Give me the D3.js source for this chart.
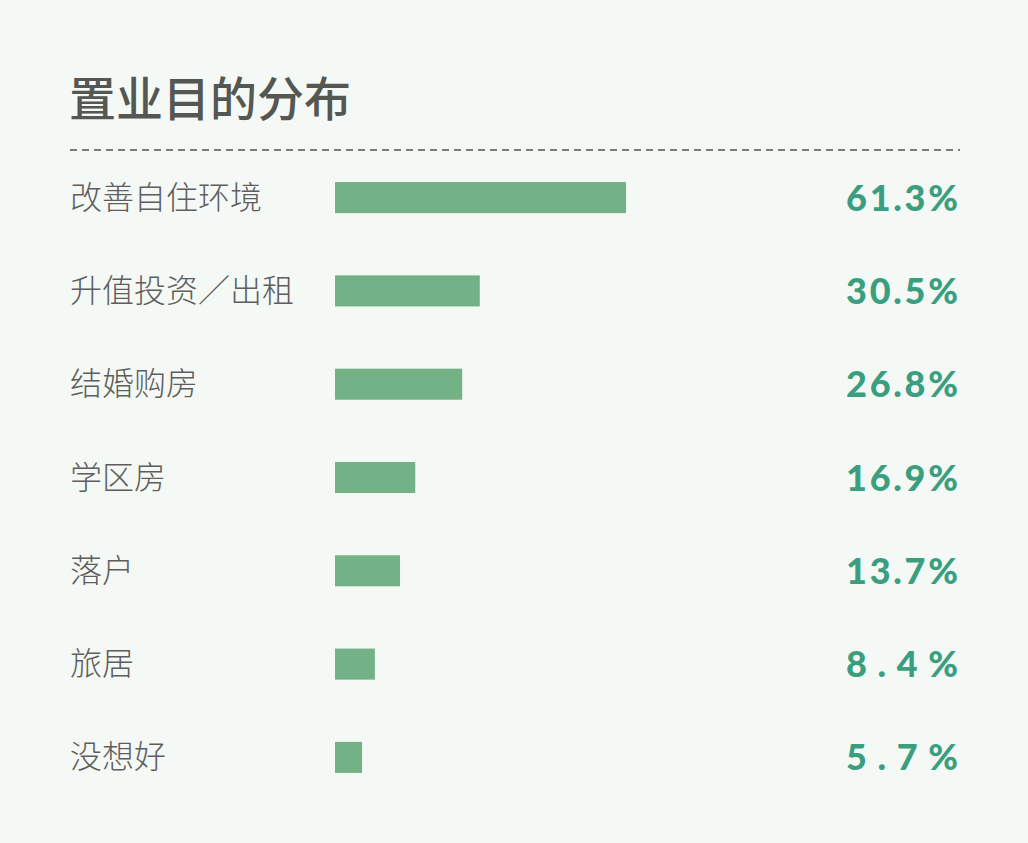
<!DOCTYPE html>
<html><head><meta charset="utf-8">
<script src="https://cdn.jsdelivr.net/npm/d3@7"></script>
<style>html,body{margin:0;padding:0;background:#f5f9f6;}</style>
</head><body>
<script>
const categories = ["改善自住环境","升值投资／出租","结婚购房","学区房","落户","旅居","没想好"];
const values = [61.3, 30.5, 26.8, 16.9, 13.7, 8.4, 5.7];
const valueLabels = ["61.3%","30.5%","26.8%","16.9%","13.7%","8.4%","5.7%"];
const title = "置业目的分布";

const W = 1028, H = 843;
const svg = d3.select("body").append("svg").attr("width", W).attr("height", H);
svg.append("rect").attr("width", W).attr("height", H).attr("fill", "#f5f9f6");

svg.append("text").attr("x", 69).attr("y", 116).text(title)
  .attr("font-family", "Noto Sans CJK SC").attr("font-weight", 500)
  .attr("font-size", 47).attr("fill", "#555753");

svg.append("line").attr("x1", 70).attr("x2", 960).attr("y1", 150).attr("y2", 150)
  .attr("stroke", "#7a7a7a").attr("stroke-width", 2).attr("stroke-dasharray", "7,5");

const x = d3.scaleLinear().domain([0, 100]).range([335, 335 + 474.7]);
const y = d3.scaleBand().domain(categories).range([151, 804]).paddingInner(0.667).paddingOuter(0.333);

const g = svg.append("g");
g.selectAll("rect.bar").data(categories).join("rect").attr("class", "bar")
  .attr("x", x(0)).attr("y", d => y(d)).attr("height", y.bandwidth())
  .attr("width", (d, i) => x(values[i]) - x(0)).attr("fill", "#72b286");

g.selectAll("text.cat").data(categories).join("text").attr("class", "cat")
  .attr("x", 70).attr("y", d => y(d) + y.bandwidth() / 2 + 11).text(d => d)
  .attr("font-family", "Noto Sans CJK SC").attr("font-weight", 300)
  .attr("font-size", 32).attr("fill", "#5e5e5e");

g.selectAll("text.val").data(categories).join("text").attr("class", "val")
  .attr("x", 846).attr("y", d => y(d) + y.bandwidth() / 2 + 13).text((d, i) => valueLabels[i])
  .attr("font-family", "Lato").attr("font-weight", 900)
  .attr("font-size", 36).attr("fill", "#3a9e7f")
  .attr("textLength", 112).attr("lengthAdjust", "spacing");
</script>
</body></html>
